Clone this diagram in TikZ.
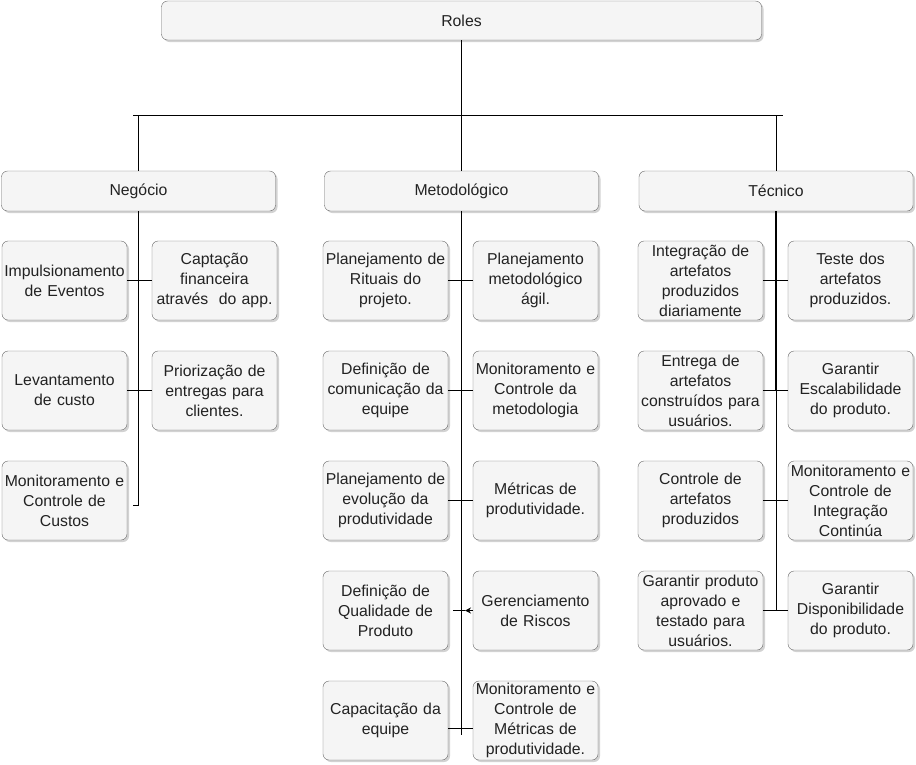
\documentclass[tikz,border=0pt]{standalone}
\usepackage{fontspec}
\setmainfont{Liberation Sans}
\usetikzlibrary{shadows,arrows.meta}
\definecolor{boxfill}{HTML}{F5F5F5}
\definecolor{boxline}{HTML}{666666}
\definecolor{boxtext}{HTML}{222222}
\tikzset{
  rolebox/.style={draw=boxline, fill=boxfill, text=boxtext, rounded corners=6pt,
    inner sep=1pt, align=center, font=\fontsize{15.8}{20}\selectfont,
    drop shadow={shadow xshift=2pt, shadow yshift=-2pt, fill=black!35}},
  taskbox/.style={rolebox, text width=123pt, minimum height=79pt},
  groupbox/.style={rolebox, minimum width=274pt, minimum height=40pt},
  link/.style={draw=black, line width=1pt}
}
\begin{document}
\begin{tikzpicture}[x=1pt, y=-1pt]
  \useasboundingbox (0,0) rectangle (916,764);
  % topo
  \node[rolebox, minimum width=600pt, minimum height=39pt] (roles) at (461.5,20.5) {Roles};
  \node[groupbox] (neg) at (138.5,191) {Negócio};
  \node[groupbox] (met) at (461.5,191) {Metodológico};
  \node[groupbox] (tec) at (776,191) {Técnico};
  \coordinate (bus) at (461.5,115.5);
  \coordinate (busL) at (133,115.5);
  \coordinate (busR) at (783,115.5);
  \draw[link] (roles.south) -- (bus);
  \draw[link] (busL) -- (busR);
  \draw[link] (neg.north |- bus) -- (neg.north);
  \draw[link] (met.north |- bus) -- (met.north);
  \draw[link] (tec.north |- bus) -- (tec.north);

  % Negocio
  \node[taskbox] (n1) at (64.5,280.5) {Impulsionamento\\de Eventos};
  \node[taskbox] (n2) at (214.5,280.5) {Captação\\financeira\\através~ do app.};
  \node[taskbox] (n3) at (64.5,390.5) {Levantamento\\de custo};
  \node[taskbox] (n4) at (214.5,390.5) {Priorização de\\entregas para\\clientes.};
  \node[taskbox] (n5) at (64.5,500.5) {Monitoramento e\\Controle de\\Custos};
  \coordinate (negEnd) at (138.5,505.5);
  \draw[link] (neg.south) -- (negEnd) -- ++(-6,0);
  \draw[link] (n1.east) -- (n2.west);
  \draw[link] (n3.east) -- (n4.west);

  % Metodologico
  \node[taskbox] (m1) at (385.5,280.5) {Planejamento de\\Rituais do\\projeto.};
  \node[taskbox] (m2) at (535.5,280.5) {Planejamento\\metodológico\\ágil.};
  \node[taskbox] (m3) at (385.5,390.5) {Definição de\\comunicação da\\equipe};
  \node[taskbox] (m4) at (535.5,390.5) {Monitoramento e\\Controle da\\metodologia};
  \node[taskbox] (m5) at (385.5,500.5) {Planejamento de\\evolução da\\produtividade};
  \node[taskbox] (m6) at (535.5,500.5) {Métricas de\\produtividade.};
  \node[taskbox] (m7) at (385.5,610.5) {Definição de\\Qualidade de\\Produto};
  \node[taskbox] (m8) at (535.5,610.5) {Gerenciamento\\de Riscos};
  \node[taskbox] (m9) at (385.5,720.5) {Capacitação da\\equipe};
  \node[taskbox] (m10) at (535.5,720.5) {Monitoramento e\\Controle de\\Métricas de\\produtividade.};
  \coordinate (metEnd) at (461.5,735);
  \coordinate (riscoTip) at (465,610.5);
  \draw[link] (met.south) -- (metEnd);
  \draw[link] (m1.east) -- (m2.west);
  \draw[link] (m3.east) -- (m4.west);
  \draw[link] (m5.east) -- (m6.west);
  \draw[link, -{Stealth[length=6pt,width=6pt]}] (m8.west) -- (riscoTip);
  \draw[link] (riscoTip) -- ++(-12,0);
  \draw[link] (m9.east |- 0,728.5) -- (m10.west |- 0,728.5);

  % Tecnico
  \node[taskbox] (t1) at (700.5,280.5) {Integração de\\artefatos\\produzidos\\diariamente};
  \node[taskbox] (t2) at (850.5,280.5) {Teste dos\\artefatos\\produzidos.};
  \node[taskbox] (t3) at (700.5,390.5) {Entrega de\\artefatos\\construídos para\\usuários.};
  \node[taskbox] (t4) at (850.5,390.5) {Garantir\\Escalabilidade\\do produto.};
  \node[taskbox] (t5) at (700.5,500.5) {Controle de\\artefatos\\produzidos};
  \node[taskbox] (t6) at (850.5,500.5) {Monitoramento e\\Controle de\\Integração\\Continúa};
  \node[taskbox] (t7) at (700.5,610.5) {Garantir produto\\aprovado e\\testado para\\usuários.};
  \node[taskbox] (t8) at (850.5,610.5) {Garantir\\Disponibilidade\\do produto.};
  \coordinate (tecEnd) at (776,611);
  \draw[link] (tec.south) -- (tecEnd);
  \draw[link, line width=2pt] (tec.south) -- ++(0,179);
  \draw[link] (t1.east) -- (t2.west);
  \draw[link] (t3.east) -- (t4.west);
  \draw[link] (t5.east) -- (t6.west);
  \draw[link] (t7.east) -- (t8.west);
\end{tikzpicture}
\end{document}
